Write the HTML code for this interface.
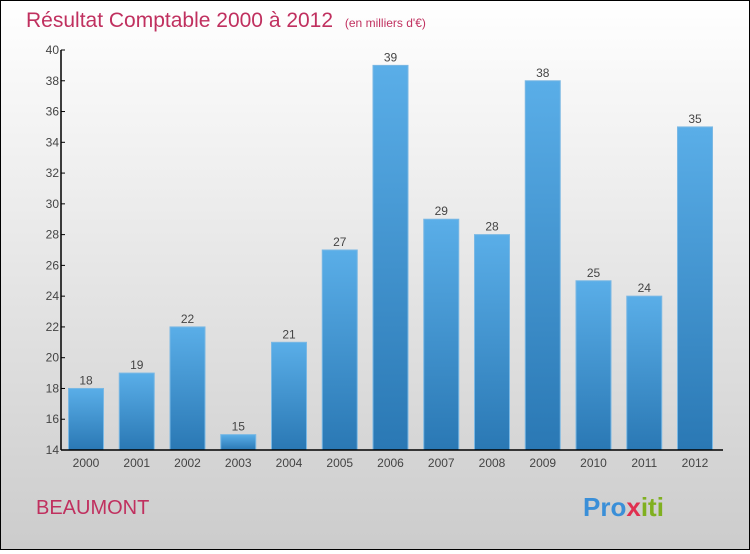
<!DOCTYPE html>
<html><head><meta charset="utf-8"><style>
body{margin:0;}
#wrap{width:748px;height:548px;border:1px solid #000;background:linear-gradient(#fff,#ccc);position:relative;font-family:"Liberation Sans",sans-serif;}
</style></head><body>
<div id="wrap">
<svg id="chart" width="748" height="548">
<defs><linearGradient id="g" x1="0" y1="0" x2="0" y2="1"><stop offset="0" stop-color="#5aaee8"/><stop offset="1" stop-color="#2a78b4"/></linearGradient></defs>
<text x="25" y="26" font-size="21" fill="#c0305f">Résultat Comptable 2000 à 2012 <tspan font-size="12" dx="6">(en milliers d'€)</tspan></text>
<text x="35" y="513" font-size="20" fill="#c0305f">BEAUMONT</text>
<text x="582" y="515" font-size="26" font-weight="bold" fill="#f08020"><tspan fill="#3a8fd8">Pro</tspan><tspan fill="#e03050">x</tspan><tspan fill="#80b020">iti</tspan></text>
<g id="plot"></g>
</svg>
</div>
<script>
const years=["2000","2001","2002","2003","2004","2005","2006","2007","2008","2009","2010","2011","2012"];
const values=[18,19,22,15,21,27,39,29,28,38,25,24,35];
const ticks=[14,16,18,20,22,24,26,28,30,32,34,36,38,40];
const NS="http://www.w3.org/2000/svg";
const g=document.getElementById('plot');
const y0=449,y1=49,vmin=14,vmax=40;
const yS=v=>y0-(v-vmin)/(vmax-vmin)*(y0-y1);
const xS=i=>85+i*50.75;
function mk(t,a){const e=document.createElementNS(NS,t);for(const k in a)e.setAttribute(k,a[k]);g.appendChild(e);return e;}
values.forEach((v,i)=>{
 const r=mk('rect',{x:xS(i)-17.5,y:yS(v),width:35,height:y0-yS(v),fill:'url(#g)',stroke:'#7ab8e4','stroke-width':1});
 
 
 const t=mk('text',{x:xS(i),y:yS(v)-4,'font-size':12,fill:'#444','text-anchor':'middle'});t.textContent=v;
 
 
 const xl=mk('text',{x:xS(i),y:466,'font-size':12,fill:'#444','text-anchor':'middle'});xl.textContent=years[i];
 
 
});
ticks.forEach(v=>{
 mk('line',{x1:60,x2:64,y1:yS(v),y2:yS(v),stroke:'#000'});
 const t=mk('text',{x:58,y:yS(v)+4,'font-size':12,fill:'#444','text-anchor':'end'});t.textContent=v;
 
 
});
const ya=mk('line',{x1:60,x2:60,y1:y1,y2:y0,stroke:'#000','stroke-width':1.5});


const xa=mk('line',{x1:60,x2:722,y1:y0,y2:y0,stroke:'#000','stroke-width':1.5});


</script>
</body></html>
